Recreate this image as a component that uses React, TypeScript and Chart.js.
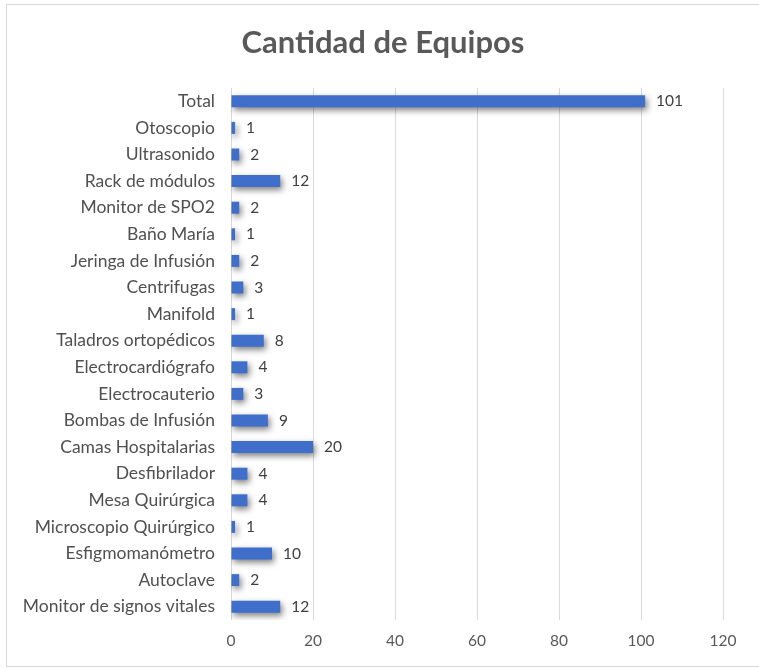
import React, { useEffect, useRef } from "react";
import { Chart, registerables } from "chart.js";

Chart.register(...registerables);

const categories = [
  "Total",
  "Otoscopio",
  "Ultrasonido",
  "Rack de módulos",
  "Monitor de SPO2",
  "Baño María",
  "Jeringa de Infusión",
  "Centrifugas",
  "Manifold",
  "Taladros ortopédicos",
  "Electrocardiógrafo",
  "Electrocauterio",
  "Bombas de Infusión",
  "Camas Hospitalarias",
  "Desfibrilador",
  "Mesa Quirúrgica",
  "Microscopio Quirúrgico",
  "Esfigmomanómetro",
  "Autoclave",
  "Monitor de signos vitales",
];

const cantidad = [101, 1, 2, 12, 2, 1, 2, 3, 1, 8, 4, 3, 9, 20, 4, 4, 1, 10, 2, 12];

const titleText = "Cantidad de Equipos";
const xMin = 0;
const xMax = 120;
const xStep = 20;

const FONT = "Lato, 'Open Sans', sans-serif";

const frameAndTitle = {
  id: "frameAndTitle",
  beforeDraw(chart: any) {
    const ctx = chart.ctx;
    ctx.save();
    ctx.fillStyle = "#ffffff";
    ctx.fillRect(0, 0, chart.width, chart.height);
    ctx.strokeStyle = "#d9d9d9";
    ctx.lineWidth = 1;
    ctx.strokeRect(6.5, 4.5, chart.width + 10, chart.height - 6);
    ctx.fillStyle = "#595959";
    ctx.font = "bold 31px " + FONT;
    ctx.textAlign = "center";
    ctx.textBaseline = "alphabetic";
    ctx.fillText(titleText, 383, 53);
    ctx.restore();
  },
};

const barShadow = {
  id: "barShadow",
  beforeDatasetsDraw(chart: any) {
    const ctx = chart.ctx;
    ctx.save();
    ctx.shadowColor = "rgba(0,0,0,0.5)";
    ctx.shadowBlur = 6;
    ctx.shadowOffsetX = 2;
    ctx.shadowOffsetY = 3;
  },
  afterDatasetsDraw(chart: any) {
    chart.ctx.restore();
  },
};

const valueLabels = {
  id: "valueLabels",
  afterDatasetsDraw(chart: any) {
    const ctx = chart.ctx;
    const meta = chart.getDatasetMeta(0);
    const data = chart.data.datasets[0].data;
    ctx.save();
    ctx.fillStyle = "#404040";
    ctx.font = "15.5px " + FONT;
    ctx.textAlign = "left";
    ctx.textBaseline = "middle";
    meta.data.forEach((bar: any, i: number) => {
      ctx.fillText(String(data[i]), bar.x + 11, bar.y);
    });
    ctx.restore();
  },
};

export default function App() {
  const ref = useRef<HTMLCanvasElement | null>(null);

  useEffect(() => {
    if (!ref.current) return;
    const chart = new Chart(ref.current, {
      type: "bar",
      data: {
        labels: categories,
        datasets: [
          {
            data: cantidad,
            backgroundColor: "#3f6fcb",
            borderWidth: 0,
            categoryPercentage: 0.9,
            barPercentage: 0.5,
          },
        ],
      },
      options: {
        indexAxis: "y",
        responsive: false,
        maintainAspectRatio: false,
        animation: false,
        layout: { padding: { left: 0, right: 36, top: 88, bottom: 8 } },
        plugins: {
          legend: { display: false },
          title: { display: false },
          tooltip: { enabled: false },
        },
        scales: {
          x: {
            min: xMin,
            max: xMax,
            ticks: {
              stepSize: xStep,
              color: "#595959",
              font: { family: FONT, size: 15.5 },
              padding: 12,
            },
            grid: { color: "#d9d9d9", drawTicks: false },
            border: { display: false },
            afterFit(scale: any) {
              scale.height = 40;
            },
          },
          y: {
            ticks: {
              color: "#505050",
              font: { family: FONT, size: 17.5 },
              padding: 16,
              autoSkip: false,
            },
            grid: { display: false, drawTicks: false },
            border: { display: false },
            afterFit(scale: any) {
              scale.width = 231;
            },
          },
        },
      },
      plugins: [frameAndTitle, barShadow, valueLabels],
    });
    return () => chart.destroy();
  }, []);

  return (
    <div style={{ position: "absolute", left: 0, top: 0, width: 759, height: 668 }}>
      <canvas ref={ref} width={759} height={668} style={{ display: "block" }} />
    </div>
  );
}
